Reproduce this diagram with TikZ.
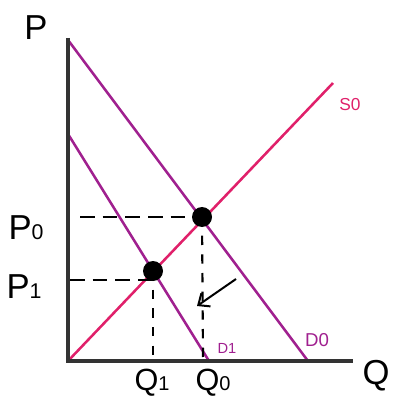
\documentclass[tikz,border=0pt]{standalone}
\usepackage{fontspec}
\setmainfont{Liberation Sans}
\usetikzlibrary{arrows.meta}
\definecolor{dcol}{HTML}{A0208F}
\definecolor{scol}{HTML}{E0206A}
\definecolor{axcol}{HTML}{333333}
\begin{document}
\begin{tikzpicture}[x=0.75pt,y=-0.75pt,
  axis/.style={line width=3.6pt,draw=axcol,line cap=butt},
  dcurve/.style={line width=1.9pt,draw=dcol},
  scurve/.style={line width=1.9pt,draw=scol},
  dot/.style={circle,fill=black,inner sep=0pt,minimum size=15pt},
  hdash/.style={line width=1.6pt,dash pattern=on 11pt off 6pt},
  vdash/.style={line width=1.6pt,dash pattern=on 7pt off 7pt},
  lab/.style={font=\fontsize{26}{26}\selectfont,inner sep=0pt},
  sub/.style={},
  dlab/.style={font=\fontsize{14}{14}\selectfont,text=dcol,inner sep=0pt},
  slab/.style={font=\fontsize{13}{13}\selectfont,text=scol,inner sep=0pt}]
\useasboundingbox (0,0) rectangle (396,402);
% coordinates
\coordinate (O) at (68,361);
\coordinate (ytop) at (68,38);
\coordinate (xend) at (353,361);
\coordinate (d0a) at (68,40);
\coordinate (d0b) at (308,361);
\coordinate (d1a) at (68,134);
\coordinate (d1b) at (209,361);
\coordinate (s0b) at (333,83);
\coordinate (p0s) at (80,217);
\coordinate (p1s) at (70,280);
\coordinate (q1e) at (153,358);
\coordinate (q0e) at (203,358);
\coordinate (arrS) at (236,279);
\coordinate (arrE) at (197,306);
% curves
\draw[dcurve] (d0a) -- (d0b);
\draw[dcurve] (d1a) -- (d1b);
\draw[scurve] (O) -- (s0b);
% axes
\draw[axis] (ytop) -- (O) -- (xend);
% equilibrium dots
\node[dot] (e0) at (202,217) {};
\node[dot] (e1) at (153,271) {};
% dashed guides
\draw[hdash] (p0s) -- (e0.center);
\draw[hdash] (p1s) -- (e1.center |- p1s);
\draw[vdash] (e1.center) -- (q1e);
\draw[vdash] (e0.center) -- (q0e);
% shift arrow
\draw[line width=1.5pt,-{Straight Barb[length=7pt,width=12pt,line width=1.5pt]}] (arrS) -- (arrE);
% labels
\node[lab] (lP) at (36,28) {P};
\node[lab] (lP0) at (26,228) {P{\fontsize{16}{16}\selectfont 0}};
\node[lab] (lP1) at (24,287) {P{\fontsize{16}{16}\selectfont 1}};
\node[lab,font=\fontsize{23}{23}\selectfont] (lQ1) at (152,383) {Q{\fontsize{15}{15}\selectfont 1}};
\node[lab,font=\fontsize{23}{23}\selectfont] (lQ0) at (213,383) {Q{\fontsize{15}{15}\selectfont 0}};
\node[lab] (lQ) at (376,376) {Q};
\node[dlab] (lD0) at (317,340) {D0};
\node[dlab,font=\fontsize{11}{11}\selectfont] (lD1) at (227,348) {D1};
\node[slab] (lS0) at (350,105) {S0};
\end{tikzpicture}
\end{document}
